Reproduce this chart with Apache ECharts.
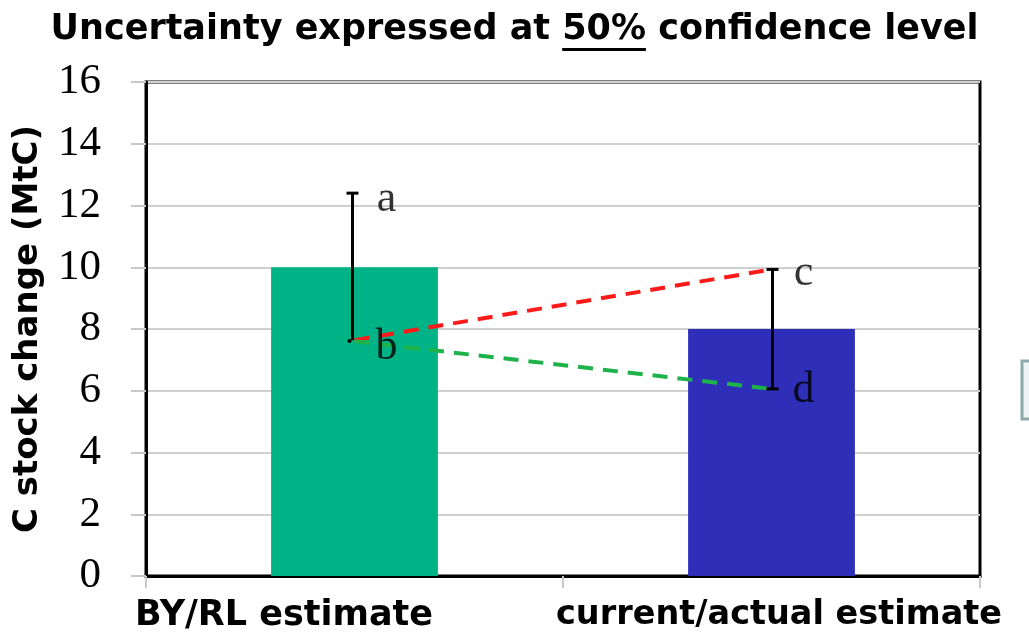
<!DOCTYPE html>
<html><head><meta charset="utf-8">
<script src="https://cdn.jsdelivr.net/npm/echarts@6/dist/echarts.min.js"></script>
<style>html,body{margin:0;padding:0;background:#fff}#c{width:1029px;height:633px}</style>
</head><body><div id="c"></div>
<script>
var categories = ['BY/RL estimate', 'current/actual estimate'];
var barValues = [10, 8];
var barColors = ['#00b386', '#2e2eb8'];
var errLow = [7.64, 6.06];
var errHigh = [12.4, 9.93];
var redLine = [7.64, 9.93];
var greenLine = [7.6, 6.06];
var letterNames = ['a', 'b', 'c', 'd'];
var letterCat = [0, 0, 1, 1];
var letterY = [12.2, 7.4, 9.8, 6.0];
var yTicks = [0, 2, 4, 6, 8, 10, 12, 14, 16];
var titlePre = 'Uncertainty expressed at ';
var titleUnder = '50%';
var titlePost = ' confidence level';

var chart = echarts.init(document.getElementById('c'), null, {renderer: 'canvas'});
var sans = '"DejaVu Sans", Verdana, sans-serif';
var serif = '"Liberation Serif", "Times New Roman", serif';
var titleSize = 35;

// underline geometry from text metrics
var cv = document.createElement('canvas').getContext('2d');
cv.font = 'bold ' + titleSize + 'px ' + sans;
var wPre = cv.measureText(titlePre).width;
var wU = cv.measureText(titleUnder).width;
var wAll = cv.measureText(titlePre + titleUnder + titlePost).width;
var tLeft = (1029 - wAll) / 2;
var titleTop = 12;
var ulY = titleTop + titleSize * 1.07;

chart.setOption({
  animation: false,
  backgroundColor: '#fff',
  title: {
    text: '{a|' + titlePre + '}{a|' + titleUnder + '}{a|' + titlePost + '}',
    left: 'center', top: titleTop, padding: 0,
    textStyle: {
      rich: {
        a: {fontFamily: sans, fontWeight: 'bold', fontSize: titleSize, color: '#000'}
      }
    }
  },
  grid: {left: 146, right: 49, top: 82, bottom: 57, show: true, borderColor: '#000', borderWidth: 3, containLabel: false},
  xAxis: {
    type: 'category', data: categories, boundaryGap: true,
    axisLine: {lineStyle: {color: '#000', width: 3}},
    axisTick: {show: true, length: 12, lineStyle: {color: '#c8c8c8', width: 2}},
    axisLabel: {
      interval: 0, hideOverlap: false,
      margin: 22, color: '#000', fontFamily: sans, fontWeight: 'bold', fontSize: 35,
      formatter: function (v, i) { return i === 0 ? '{l|' + v + '}' : '{r|' + v + '}'; },
      rich: {
        l: {fontFamily: sans, fontWeight: 'bold', fontSize: 35, color: '#000', padding: [0, 141, 0, 0]},
        r: {fontFamily: sans, fontWeight: 'bold', fontSize: 33.5, color: '#000', padding: [0, 0, 0, 15]}
      }
    }
  },
  yAxis: {
    type: 'value', min: 0, max: 16, interval: 2,
    name: 'C stock change (MtC)', nameLocation: 'middle', nameGap: 101, nameRotate: 90,
    nameTextStyle: {fontFamily: sans, fontWeight: 'bold', fontSize: 34, color: '#000'},
    axisLine: {show: true, lineStyle: {color: '#000', width: 3}},
    axisTick: {show: true, length: 15, lineStyle: {color: '#c8c8c8', width: 2}},
    axisLabel: {margin: 45, color: '#000', fontFamily: serif, fontSize: 43,
      formatter: function (v) { return yTicks.indexOf(v) >= 0 ? String(v) : ''; }},
    splitLine: {show: true, lineStyle: {color: '#cfcfcf', width: 2}}
  },
  series: [
    {
      type: 'bar', barWidth: '40%',
      data: barValues.map(function (v, i) { return {value: v, itemStyle: {color: barColors[i]}}; }),
      z: 2
    },
    {
      type: 'line', data: redLine, symbol: 'none', z: 3,
      lineStyle: {color: '#ff1a1a', width: 4, type: [15, 10]}
    },
    {
      type: 'line', data: greenLine, symbol: 'none', z: 3,
      lineStyle: {color: '#1db34a', width: 4, type: [15, 10]}
    },
    {
      type: 'custom', z: 4,
      data: categories.map(function (c, i) { return [i, errLow[i], errHigh[i]]; }),
      renderItem: function (params, api) {
        var i = api.value(0);
        var lo = api.coord([i, api.value(1)]);
        var hi = api.coord([i, api.value(2)]);
        var x = lo[0] + (i === 0 ? -2 : 1);
        var children = [
          {type: 'line', shape: {x1: x, y1: hi[1], x2: x, y2: lo[1]}, style: {stroke: '#000', lineWidth: 3}},
          {type: 'line', shape: {x1: x - 6, y1: hi[1], x2: x + 6, y2: hi[1]}, style: {stroke: '#000', lineWidth: 3}}
        ];
        if (i === 1) {
          children.push({type: 'line', shape: {x1: x - 6, y1: lo[1], x2: x + 6, y2: lo[1]}, style: {stroke: '#000', lineWidth: 3}});
        } else {
          children.push({type: 'circle', shape: {cx: x - 3, cy: lo[1] + 1, r: 2}, style: {fill: '#000'}});
        }
        return {type: 'group', children: children};
      }
    },
    {
      type: 'scatter', symbolSize: 0, z: 5,
      data: letterNames.map(function (n, k) { return {name: n, value: [letterCat[k], letterY[k]]}; }),
      label: {show: true, formatter: '{b}', position: 'inside', offset: [32, 0],
        fontFamily: serif, fontSize: 44, color: '#000'}
    }
  ],
  graphic: [
    {type: 'line', shape: {x1: tLeft + wPre, y1: ulY, x2: tLeft + wPre + wU, y2: ulY}, style: {stroke: '#000', lineWidth: 3}},
    {type: 'rect', shape: {x: 1022, y: 361, width: 30, height: 58}, style: {fill: '#eef4f4', stroke: '#8fa9ab', lineWidth: 3}}
  ]
});
</script>
</body></html>
